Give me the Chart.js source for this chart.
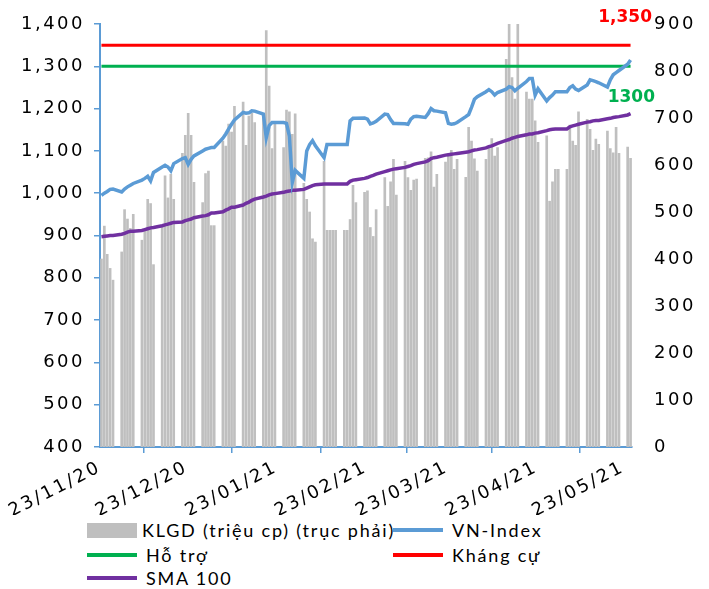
<!DOCTYPE html>
<html>
<head>
<meta charset="utf-8">
<script src="https://cdn.jsdelivr.net/npm/chart.js@4.4.1/dist/chart.umd.min.js"></script>
<style>
html, body { margin: 0; padding: 0; background: #fff; }
#wrap { position: relative; width: 709px; height: 589px; overflow: hidden; }
#c { position: absolute; left: 0; top: 0; }
.lg-text { position: absolute; font-family: Lato, "Open Sans", sans-serif; font-size: 18px; color: #000; letter-spacing: 1.8px; white-space: nowrap; line-height: 20px; }
.lg-mark { position: absolute; }
</style>
</head>
<body>
<div id="wrap">
  <canvas id="c" width="709" height="515"></canvas>
  <div id="legend"></div>
</div>
<script>
// phien giao dich: moi ngay thu 2 - thu 6 tu 23/11/20 den 25/05/21
var startDate = Date.UTC(2020, 10, 23);
var endDate = Date.UTC(2021, 4, 25);
var tickDates = ['23/11/20', '23/12/20', '23/01/21', '23/02/21', '23/03/21', '23/04/21', '23/05/21'];

// KLGD (trieu cp), one row per week
var klgd = [
  400, 470, 410, 380, 355,
  415, 505, 485, 465, 495,
  440, 463, 527, 518, 388,
  470, 577, 530, 580, 527,
  625, 663, 710, 663, 563,
  520, 582, 587, 471, 471,
  651, 640, 687, 670, 725,
  734, 642, 704, 710, 690,
  700, 886, 768, 635, 690,
  637, 717, 713, 665, 709,
  561, 527, 500, 443, 436,
  608, 461, 461, 461, 461,
  461, 461, 484, 557, 520,
  542, 545, 467, 448, 505,
  573, 512, 564, 612, 536,
  608, 573, 546, 568, 570,
  614, 615, 628, 553, 580,
  606, 624, 631, 591, 612,
  574, 680, 651, 613, 587,
  612, 637, 656, 619, 637,
  825, 1000, 786, 740, 1000,
  755, 740, 740, 694, 648,
  662, 523, 564, 591, 591,
  591, 685, 651, 642, 713,
  697, 676, 631, 655, 644,
  672, 635, 626, 680, 625,
  638, 614
];

var vnIndex = [
  995, 1000, 1004, 1009, 1010,
  1003, 1010, 1015, 1019, 1023,
  1031, 1035, 1040, 1029, 1049,
  1062, 1066, 1062, 1053, 1070,
  1082, 1084, 1068, 1080, 1088,
  1100, 1104, 1106, 1108, 1108,
  1130, 1140, 1152, 1163, 1173,
  1191, 1189, 1190, 1195, 1194,
  1187, 1131, 1160, 1167, 1167,
  1167, 1165, 1135, 1025, 1054,
  1035, 1100, 1115, 1124, 1112,
  1084, 1115, 1115, 1115, 1115,
  1115, 1115, 1171, 1177, 1177,
  1178, 1175, 1164, 1166, 1170,
  1187, 1186, 1174, 1165, 1165,
  1164, 1163, 1175, 1181, 1182,
  1179, 1188, 1200, 1195, 1194,
  1190, 1165, 1163, 1164, 1167,
  1181, 1186, 1203, 1222, 1228,
  1240, 1245, 1240, 1232, 1238,
  1246, 1252, 1250, 1242, 1248,
  1264, 1271, 1271, 1232, 1247,
  1218, 1226, 1232, 1240, 1240,
  1240, 1250, 1254, 1246, 1243,
  1256, 1268, 1266, 1264, 1261,
  1251, 1268, 1280, 1285, 1290,
  1305, 1315
];

var sma100 = [
  897, 898, 899, 900, 900,
  903, 905, 908, 910, 910,
  912, 914, 916, 918, 919,
  923, 925, 927, 929, 931,
  932, 935, 937, 939, 942,
  946, 947, 949, 953, 953,
  956, 960, 963, 967, 967,
  972, 976, 979, 983, 986,
  991, 993, 996, 998, 999,
  1002, 1004, 1005, 1007, 1007,
  1009, 1012, 1015, 1018, 1020,
  1022, 1022, 1022, 1022, 1022,
  1022, 1022, 1028, 1031, 1032,
  1035, 1037, 1040, 1042, 1045,
  1051, 1053, 1055, 1057, 1058,
  1061, 1063, 1065, 1068, 1070,
  1074, 1077, 1082, 1084, 1085,
  1090, 1091, 1092, 1093, 1094,
  1097, 1098, 1100, 1102, 1103,
  1107, 1110, 1112, 1115, 1118,
  1125, 1127, 1130, 1132, 1134,
  1138, 1140, 1140, 1142, 1143,
  1148, 1150, 1151, 1152, 1152,
  1152, 1157, 1159, 1161, 1163,
  1168, 1169, 1171, 1172, 1172,
  1176, 1177, 1179, 1180, 1181,
  1185, 1188
];

var hoTro = 1300;
var khangCu = 1350;

var DAY = 86400000;
var days = [];
for (var t = startDate; t <= endDate; t += DAY) {
  var wd = new Date(t).getUTCDay();
  if (wd != 0 && wd != 6) days.push(Math.round((t - startDate) / DAY));
}
var lastDay = Math.round((endDate - startDate) / DAY) + 1;

var tickValues = tickDates.map(function(s) {
  var p = s.split('/');
  return Math.round((Date.UTC(2000 + Number(p[2]), Number(p[1]) - 1, Number(p[0])) - startDate) / DAY);
});

function pts(arr) {
  return arr.map(function(v, i) { return {x: days[i] + 0.5, y: v}; });
}
function flat(v) {
  return days.map(function(d) { return {x: d + 0.5, y: v}; });
}

var axisBlue = '#5b9bd5';
var tickFont = {family: 'DejaVu Sans', size: 18};

// chu so tren truc hoi gian ra nhu ban Excel
var spacing = {
  id: 'spacing',
  beforeDraw: function(chart) { chart.ctx.letterSpacing = '2.5px'; },
  afterDraw: function(chart) { chart.ctx.letterSpacing = '0px'; }
};

var levelLabels = {
  id: 'levelLabels',
  afterDatasetsDraw: function(chart) {
    var ctx = chart.ctx, y = chart.scales.y, area = chart.chartArea;
    ctx.save();
    ctx.letterSpacing = '0px';
    ctx.font = 'bold 17px "DejaVu Sans"';
    ctx.textAlign = 'right';
    ctx.textBaseline = 'middle';
    ctx.fillStyle = '#ff0000';
    ctx.fillText('1,350', area.right + 20, y.getPixelForValue(khangCu) - 28);
    ctx.fillStyle = '#00b050';
    ctx.fillText('1300', area.right + 23, y.getPixelForValue(hoTro) + 31);
    ctx.restore();
  }
};

var datasets = [
  {type: 'bar', label: 'KLGD (triệu cp) (trục phải)', data: pts(klgd), yAxisID: 'y1',
   backgroundColor: '#bfbfbf', barThickness: 2, order: 10},
  {type: 'line', label: 'VN-Index', data: pts(vnIndex), yAxisID: 'y',
   borderColor: '#5b9bd5', borderWidth: 3.5, pointRadius: 0, tension: 0, order: 1},
  {type: 'line', label: 'Hỗ trợ', data: flat(hoTro), yAxisID: 'y',
   borderColor: '#00b050', borderWidth: 3, pointRadius: 0, order: 3},
  {type: 'line', label: 'Kháng cự', data: flat(khangCu), yAxisID: 'y',
   borderColor: '#ff0000', borderWidth: 3, pointRadius: 0, order: 3},
  {type: 'line', label: 'SMA 100', data: pts(sma100), yAxisID: 'y',
   borderColor: '#7030a0', borderWidth: 3.5, pointRadius: 0, tension: 0, order: 2}
];

new Chart(document.getElementById('c').getContext('2d'), {
  type: 'bar',
  data: {datasets: datasets},
  plugins: [spacing, levelLabels],
  options: {
    responsive: false,
    animation: false,
    layout: {padding: {top: 24, left: 0, right: 0, bottom: 0}},
    plugins: {legend: {display: false}, tooltip: {enabled: false}},
    scales: {
      x: {
        type: 'linear', min: 0, max: lastDay, offset: false,
        afterBuildTicks: function(scale) {
          scale.ticks = tickValues.map(function(v) { return {value: v}; });
        },
        afterFit: function(scale) { scale.height = 515 - 447; },
        ticks: {
          autoSkip: false, minRotation: 27, maxRotation: 27, padding: 4,
          font: tickFont, color: '#000',
          callback: function(v) { return tickDates[tickValues.indexOf(v)]; }
        },
        grid: {display: true, drawOnChartArea: false, drawTicks: true, tickLength: 6, color: axisBlue, lineWidth: 1.5},
        border: {display: true, color: axisBlue, width: 2}
      },
      y: {
        position: 'left', min: 400, max: 1400,
        afterFit: function(scale) { scale.width = 100; },
        ticks: {
          stepSize: 100, padding: 9, font: tickFont, color: '#000',
          callback: function(v) { return v.toLocaleString('en-US'); }
        },
        grid: {display: true, drawOnChartArea: false, drawTicks: true, tickLength: 6, color: axisBlue, lineWidth: 1.5},
        border: {display: true, color: axisBlue, width: 2}
      },
      y1: {
        position: 'right', min: 0, max: 900,
        afterFit: function(scale) { scale.width = 709 - 632; },
        ticks: {stepSize: 100, padding: 4, font: tickFont, color: '#000'},
        // khong ve vach, chi de day nhan sang phai
        grid: {display: false, drawTicks: true, tickLength: 18},
        border: {display: false}
      }
    }
  }
});

// chu thich o duoi
var legendItems = [
  {label: datasets[0].label, color: '#bfbfbf', box: true, x: 87, y: 530},
  {label: datasets[1].label, color: '#5b9bd5', x: 393, y: 530},
  {label: datasets[2].label, color: '#00b050', x: 87, y: 555},
  {label: datasets[3].label, color: '#ff0000', x: 393, y: 555},
  {label: datasets[4].label, color: '#7030a0', x: 87, y: 578}
];
var legend = document.getElementById('legend');
legendItems.forEach(function(it) {
  var mk = document.createElement('div');
  mk.className = 'lg-mark';
  var h = it.box ? 15 : 4;
  mk.style.cssText = 'left:' + it.x + 'px;top:' + (it.y - h / 2) + 'px;width:50px;height:' + h + 'px;background:' + it.color + ';';
  legend.appendChild(mk);
  var tx = document.createElement('div');
  tx.className = 'lg-text';
  tx.style.left = (it.x + (it.box ? 55 : 59)) + 'px';
  tx.style.top = (it.y - 10) + 'px';
  tx.textContent = it.label;
  legend.appendChild(tx);
});
</script>
</body>
</html>
